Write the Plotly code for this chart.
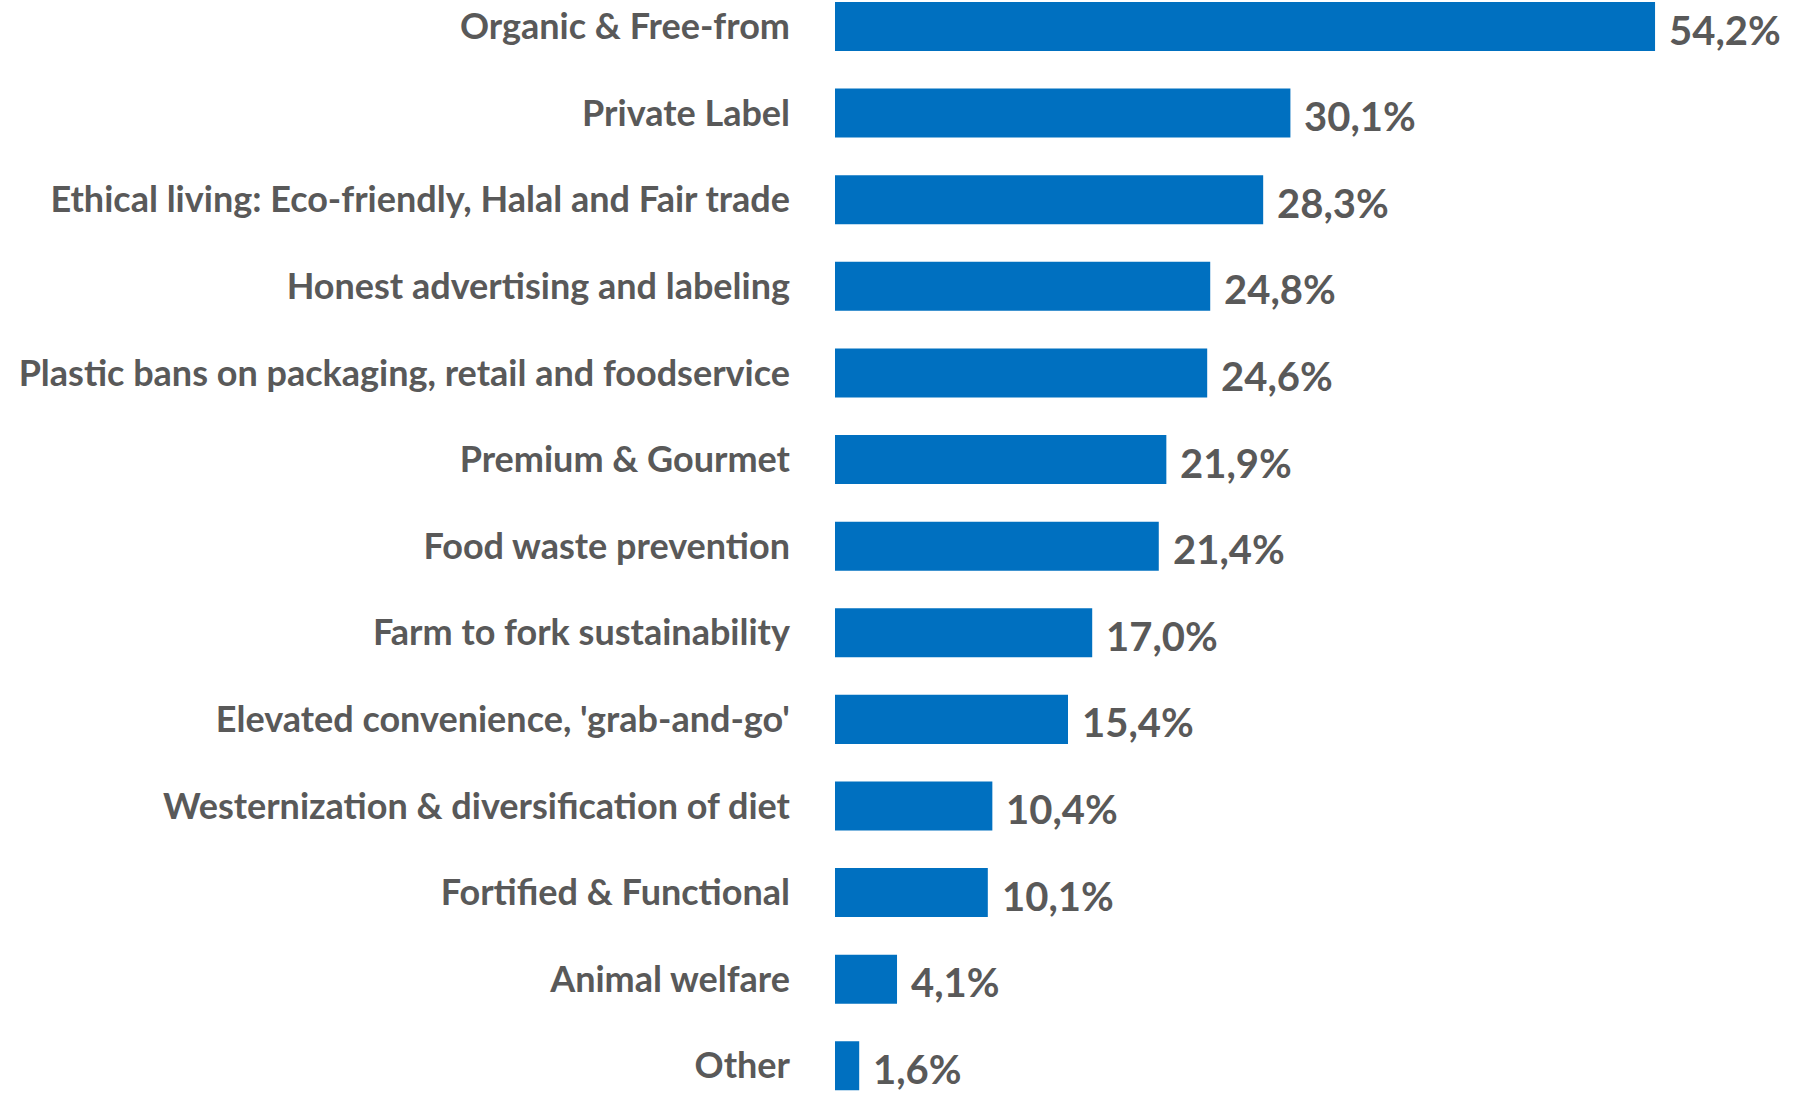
import plotly.graph_objects as go

categories = [
    "Organic & Free-from",
    "Private Label",
    "Ethical living: Eco-friendly, Halal and Fair trade",
    "Honest advertising and labeling",
    "Plastic bans on packaging, retail and foodservice",
    "Premium & Gourmet",
    "Food waste prevention",
    "Farm to fork sustainability",
    "Elevated convenience, 'grab-and-go'",
    "Westernization & diversification of diet",
    "Fortified & Functional",
    "Animal welfare",
    "Other",
]
values = [54.2, 30.1, 28.3, 24.8, 24.6, 21.9, 21.4, 17.0, 15.4, 10.4, 10.1, 4.1, 1.6]
value_labels = [f"{v:.1f}%".replace(".", ",") for v in values]

FONT = "Lato"
GREY = "#595959"
BLUE = "#0070C0"

fig = go.Figure(
    go.Bar(
        x=values,
        y=categories,
        orientation="h",
        marker=dict(color=BLUE, line=dict(width=0)),
        width=0.566,
        hoverinfo="skip",
    )
)

for c, v, t in zip(categories, values, value_labels):
    fig.add_annotation(
        x=v, y=c, text=t, showarrow=False, xanchor="left", yanchor="middle",
        xshift=12, yshift=-3,
        font=dict(family=FONT, size=40, color=GREY, weight="bold"),
    )

fig.update_layout(
    width=1811,
    height=1093,
    margin=dict(l=835, r=100, t=0, b=0),
    paper_bgcolor="white",
    plot_bgcolor="white",
    showlegend=False,
    xaxis=dict(range=[0, 876 / 15.13], visible=False, fixedrange=True),
    yaxis=dict(
        type="category",
        range=[12.314, -0.306],
        showgrid=False,
        zeroline=False,
        showline=False,
        ticks="",
        ticklabelstandoff=44,
        tickfont=dict(family=FONT, size=36, color=GREY, weight="bold"),
        automargin=False,
    ),
)

fig.write_html("out.html")
